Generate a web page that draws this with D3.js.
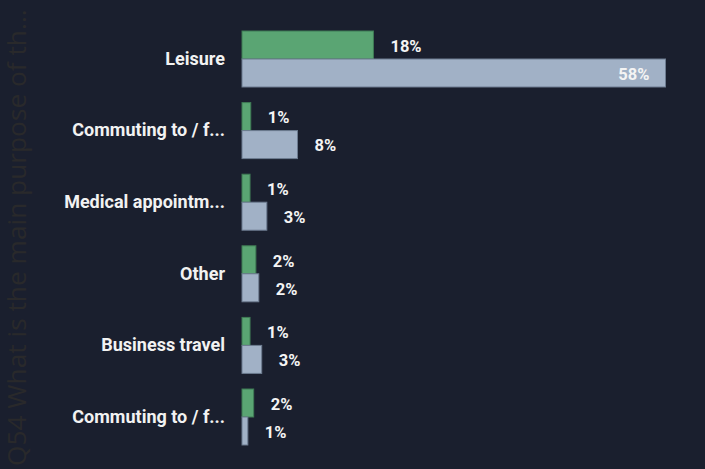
<!DOCTYPE html>
<html>
<head>
<meta charset="utf-8">
<script src="https://cdn.jsdelivr.net/npm/d3@7"></script>
<style>
  html, body { margin: 0; padding: 0; background: #1a1f2e; }
  svg { display: block; }
</style>
</head>
<body>
<svg id="chart" width="705" height="469"></svg>
<script>
// Trip purpose, two series per category (percent)
const categories = ["Leisure", "Commuting to / f...", "Medical appointm...", "Other", "Business travel", "Commuting to / f..."];
const seriesNames = ["Series A", "Series B"];
const seriesA = [18.0, 1.2, 1.1, 1.9, 1.1, 1.6];
const seriesB = [58.0, 7.6, 3.4, 2.3, 2.7, 0.8];
const axisTitle = "Q54 What is the main purpose of th...";

const colors = { "Series A": "#5aa573", "Series B": "#a1b1c6" };
const strokes = { "Series A": "#3f7c55", "Series B": "#6d7c90" };

const W = 705, H = 469;
const svg = d3.select("#chart");

const rows = categories.map((c, i) => ({
  key: i,
  cat: c,
  values: [
    { series: "Series A", value: seriesA[i] },
    { series: "Series B", value: seriesB[i] }
  ]
}));

const y = d3.scaleBand()
  .domain(rows.map(r => r.key))
  .range([23.2, 452.8])
  .paddingInner(0.218)
  .paddingOuter(0.109);

const ySub = d3.scaleBand()
  .domain(seriesNames)
  .range([0, y.bandwidth()]);

const maxV = d3.max(seriesB.concat(seriesA));
const x = d3.scaleLinear().domain([0, maxV]).range([242, 665.5]);

// faint axis title, sized to run along the left edge
const title = svg.append("text")
  .attr("font-family", "'Open Sans', sans-serif")
  .attr("font-size", 24)
  .attr("fill", "#29292b")
  .text(axisTitle);
const len = title.node().getComputedTextLength();
const fs = 24 * 457 / len;
title.attr("font-size", fs)
  .attr("transform", `translate(${5 + fs * 0.78},466) rotate(-90)`);

// category labels
const yAxis = d3.axisLeft(y).tickSize(0).tickPadding(0).tickFormat(i => categories[i]);
const gAxis = svg.append("g")
  .attr("transform", `translate(225,0)`)
  .call(yAxis);
gAxis.select(".domain").remove();
gAxis.selectAll("text")
  .attr("fill", "#f2f2f2")
  .attr("font-family", "Roboto, sans-serif")
  .attr("font-weight", 700)
  .attr("font-size", 18);

const groups = svg.append("g").selectAll("g")
  .data(rows)
  .join("g")
  .attr("transform", d => `translate(0,${y(d.key)})`);

groups.selectAll("rect")
  .data(d => d.values)
  .join("rect")
  .attr("x", x(0))
  .attr("y", d => ySub(d.series))
  .attr("width", d => x(d.value) - x(0))
  .attr("height", ySub.bandwidth())
  .attr("fill", d => colors[d.series])
  .attr("stroke", d => strokes[d.series])
  .attr("stroke-width", 1);

const fmt = v => Math.round(v) + "%";

groups.selectAll("text.val")
  .data(d => d.values)
  .join("text")
  .attr("class", "val")
  .each(function(d) {
    const w = x(d.value) - x(0);
    const inside = w > 250;
    d3.select(this)
      .attr("x", inside ? x(d.value) - 16 : x(d.value) + 17)
      .attr("text-anchor", inside ? "end" : "start");
  })
  .attr("y", d => ySub(d.series) + ySub.bandwidth() / 2 + 1)
  .attr("dy", "0.35em")
  .attr("fill", "#f4f4f4")
  .attr("font-family", "Roboto, sans-serif")
  .attr("font-weight", 700)
  .attr("font-size", 16.5)
  .text(d => fmt(d.value));
</script>
</body>
</html>
